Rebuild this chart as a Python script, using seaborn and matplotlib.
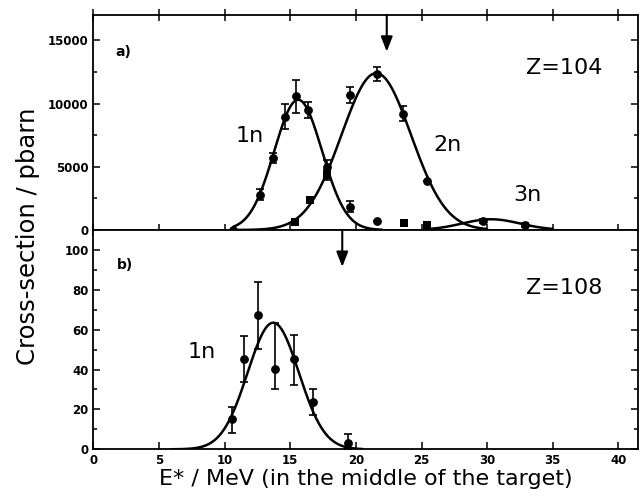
import numpy as np
import pandas as pd
import matplotlib
matplotlib.use("Agg")
import matplotlib.pyplot as plt
import seaborn as sns
from matplotlib.ticker import MultipleLocator

# panel a) Z=104, cross-section in pbarn
a_circ_x = [10.66, 12.70, 13.71, 14.56, 15.44, 16.38, 17.82, 19.55, 21.63]
a_circ_y = [0, 2800, 5660, 8950, 10590, 9480, 5000, 1840, 710]
a_circ_err = [0, 450, 400, 1000, 1300, 650, 500, 450, 0]

a_2n_x = [19.55, 21.58, 23.60, 25.39]
a_2n_y = [10660, 12350, 9200, 3850]
a_2n_err = [650, 550, 600, 0]

a_sq_x = [15.36, 16.50, 17.82, 23.70, 25.45]
a_sq_y = [660, 2370, 4350, 550, 420]
a_sq_err = [0, 0, 400, 250, 200]

a_3n_x = [29.70, 32.90]
a_3n_y = [700, 400]
a_3n_err = [150, 150]

# fitted curves (centre, width, height, start, end)
fit_1n_a = (15.6, 1.82, 10300, 10.66, 22.0)
fit_2n_a = (21.55, 2.65, 12400, 10.66, 30.0)
fit_3n_a = (30.3, 2.2, 850, 25.4, 35.0)

# panel b) Z=108, cross-section in pbarn
b_x = [10.59, 11.48, 12.57, 13.84, 15.29, 16.76, 19.42]
b_y = [15.2, 45.1, 67.3, 40.3, 45.1, 23.5, 3.3]
b_err_lo = [6.8, 11.5, 16.8, 10.3, 12.6, 6.2, 3.3]
b_err_hi = [6.1, 11.8, 16.8, 23.0, 12.1, 6.8, 4.3]
fit_1n_b = (13.7, 1.95, 63.5, 6.0, 20.5)

arrow_a = (22.35, 17000, 14100)
arrow_b = (18.96, 110, 91.5)


def fit_frame(params):
    mu, sigma, height, start, end = params
    x = np.linspace(start, end, 300)
    return pd.DataFrame({"E": x, "sigma": height * np.exp(-0.5 * ((x - mu) / sigma) ** 2)})


def style_axis(ax):
    ax.tick_params(which="both", direction="in", top=True, right=True, width=1.1,
                   labelsize=8.5, colors="black")
    ax.tick_params(which="major", length=5)
    ax.tick_params(which="minor", length=3)
    for lab in ax.get_xticklabels() + ax.get_yticklabels():
        lab.set_fontweight("bold")
    for sp in ax.spines.values():
        sp.set_linewidth(1.3)
        sp.set_color("black")


def draw_points(ax, x, y, err, marker):
    ax.errorbar(x, y, yerr=err, fmt="none", ecolor="black", elinewidth=1.2,
                capsize=3, capthick=1.2, zorder=3)
    sns.scatterplot(x=x, y=y, ax=ax, marker=marker, color="black", s=40,
                    edgecolor="black", linewidth=0, zorder=4, legend=False)


sns.set_style("ticks")
plt.rcParams["font.family"] = ["DejaVu Sans"]
plt.rcParams["text.color"] = "black"
plt.rcParams["axes.labelcolor"] = "black"

fig = plt.figure(figsize=(6.4, 5), dpi=100)
ax_a = fig.add_axes([0.146, 0.54, 0.851, 0.43])
ax_b = fig.add_axes([0.146, 0.1014, 0.851, 0.4386])

for ax in (ax_a, ax_b):
    ax.set_xlim(0, 41.5)
    ax.xaxis.set_major_locator(MultipleLocator(5))

# top panel
for params in (fit_1n_a, fit_2n_a, fit_3n_a):
    sns.lineplot(data=fit_frame(params), x="E", y="sigma", ax=ax_a,
                 color="black", linewidth=1.8, zorder=2)
draw_points(ax_a, a_circ_x, a_circ_y, a_circ_err, "o")
draw_points(ax_a, a_2n_x, a_2n_y, a_2n_err, "o")
draw_points(ax_a, a_sq_x, a_sq_y, a_sq_err, "s")
draw_points(ax_a, a_3n_x, a_3n_y, a_3n_err, "o")

ax_a.set_ylim(0, 17000)
ax_a.yaxis.set_major_locator(MultipleLocator(5000))
ax_a.yaxis.set_minor_locator(MultipleLocator(2500))
ax_a.set_xlabel("")
ax_a.set_ylabel("")
ax_a.tick_params(axis="x", labelbottom=False)
style_axis(ax_a)
ax_a.tick_params(axis="x", which="major", direction="inout", length=9)

ax_a.text(2.3, 14100, "a)", fontsize=10, fontweight="bold", ha="center", va="center")
ax_a.text(11.9, 7400, "1n", fontsize=16, ha="center", va="center")
ax_a.text(27.0, 6700, "2n", fontsize=16, ha="center", va="center")
ax_a.text(33.1, 2800, "3n", fontsize=16, ha="center", va="center")
ax_a.text(35.9, 12800, "Z=104", fontsize=16, ha="center", va="center")
ax_a.annotate("", xy=(arrow_a[0], arrow_a[2]), xytext=(arrow_a[0], arrow_a[1]),
              arrowprops=dict(arrowstyle="-|>,head_length=0.9,head_width=0.35",
                              color="black", lw=1.5, shrinkA=0, shrinkB=0))

# bottom panel
sns.lineplot(data=fit_frame(fit_1n_b), x="E", y="sigma", ax=ax_b,
             color="black", linewidth=1.8, zorder=2)
draw_points(ax_b, b_x, b_y, [b_err_lo, b_err_hi], "o")

ax_b.set_ylim(0, 110)
ax_b.yaxis.set_major_locator(MultipleLocator(20))
ax_b.yaxis.set_minor_locator(MultipleLocator(10))
ax_b.set_xlabel("E* / MeV (in the middle of the target)", fontsize=16, labelpad=1)
ax_b.set_ylabel("")
style_axis(ax_b)
ax_b.tick_params(axis="x", top=False)

ax_b.text(2.4, 92.5, "b)", fontsize=10, fontweight="bold", ha="center", va="center")
ax_b.text(8.25, 49, "1n", fontsize=16, ha="center", va="center")
ax_b.text(35.9, 81, "Z=108", fontsize=16, ha="center", va="center")
ax_b.annotate("", xy=(arrow_b[0], arrow_b[2]), xytext=(arrow_b[0], arrow_b[1]),
              arrowprops=dict(arrowstyle="-|>,head_length=0.9,head_width=0.35",
                              color="black", lw=1.5, shrinkA=0, shrinkB=0))

fig.text(0.044, 0.528, "Cross-section / pbarn", rotation=90, fontsize=17.5,
         ha="center", va="center")

fig.savefig("out.png", dpi=100)
